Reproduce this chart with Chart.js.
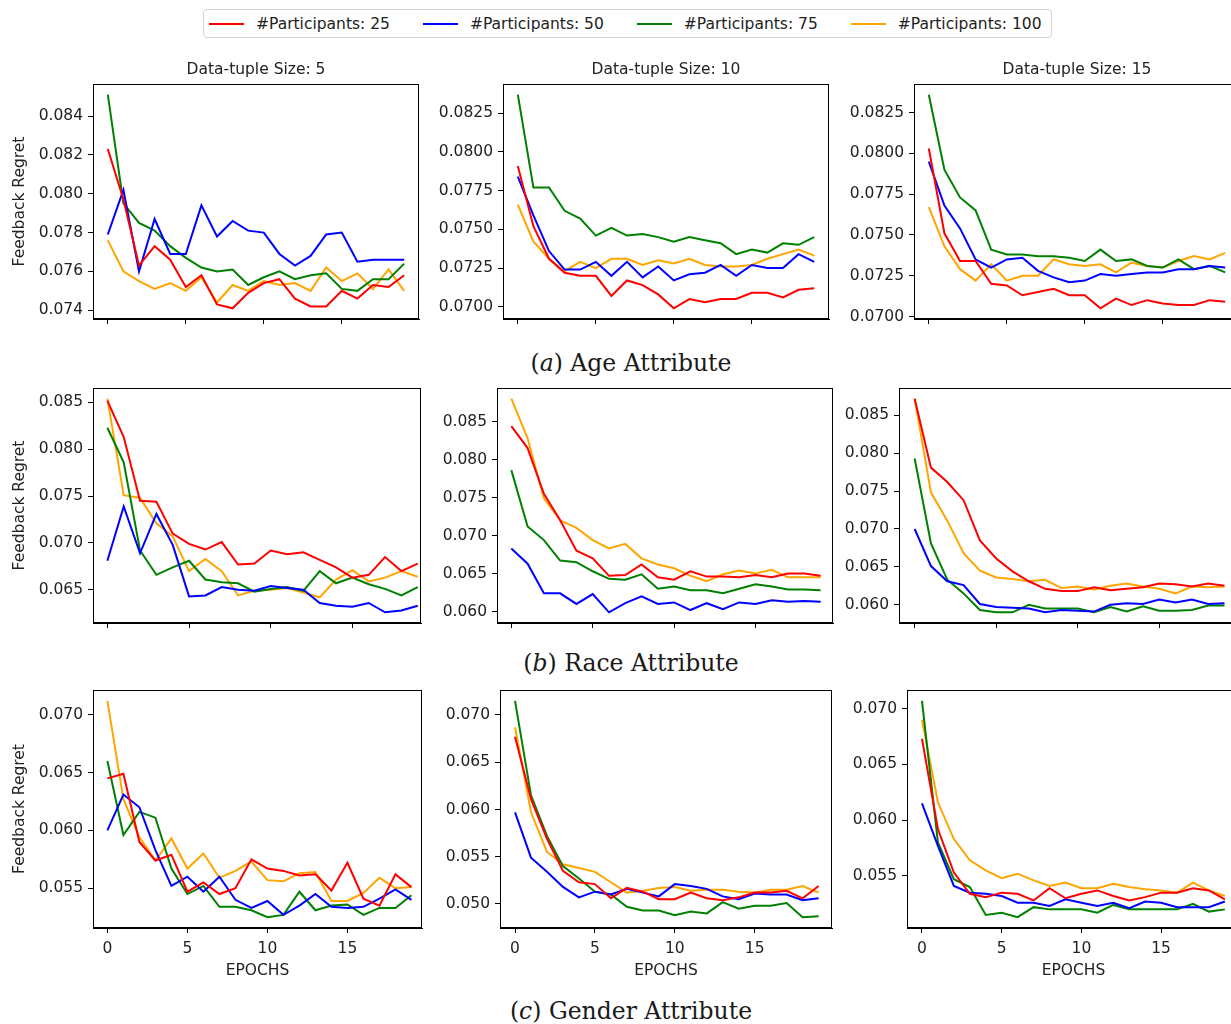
<!DOCTYPE html>
<html>
<head>
<meta charset="utf-8">
<script src="https://cdn.jsdelivr.net/npm/chart.js"></script>
<style>
  body { margin: 0; width: 1231px; height: 1024px; overflow: hidden; background: #fff; position: relative; font-family: "DejaVu Sans", sans-serif; }
  canvas { position: absolute; }
  #legend { position: absolute; left: 203px; top: 9px; width: 849px; height: 29px; box-sizing: border-box; border: 1px solid #d3d3d3; border-radius: 4px; display: flex; align-items: center; padding-left: 5px; font-size: 15.5px; color: #222; white-space: nowrap; }
  .item { display: flex; align-items: center; margin-right: 33px; flex-shrink: 0; }
  .swatch { width: 35px; height: 2px; margin-right: 12px; }
  .caption { position: absolute; left: 0; width: 1262px; text-align: center; font-family: "DejaVu Serif", serif; font-size: 23.5px; line-height: 30px; color: #1a1a1a; }
</style>
</head>
<body>
<div id="legend"></div>
<div class="caption" style="top:348px">(<i>a</i>) Age Attribute</div>
<div class="caption" style="top:648px">(<i>b</i>) Race Attribute</div>
<div class="caption" style="top:996px">(<i>c</i>) Gender Attribute</div>
<script>
// x values and series info
var epochs = [0,1,2,3,4,5,6,7,8,9,10,11,12,13,14,15,16,17,18,19];
var seriesNames = ["#Participants: 25", "#Participants: 50", "#Participants: 75", "#Participants: 100"];
var seriesColors = ["#ff0000", "#0000ff", "#008000", "#ffa500"];
var tupleSizes = [5, 10, 15];
var xTicks = [0, 5, 10, 15];

// Age attribute
var age5_25  = [0.0823,0.0797,0.0763,0.0773,0.0766,0.0752,0.0758,0.0743,0.0741,0.0749,0.0754,0.0756,0.0746,0.0742,0.0742,0.0750,0.0746,0.0753,0.0752,0.0758];
var age5_50  = [0.0779,0.0802,0.0760,0.0787,0.0769,0.0769,0.0794,0.0778,0.0786,0.0781,0.0780,0.0769,0.0763,0.0768,0.0779,0.0780,0.0765,0.0766,0.0766,0.0766];
var age5_75  = [0.0851,0.0795,0.0785,0.0781,0.0773,0.0767,0.0762,0.0760,0.0761,0.0753,0.0757,0.0760,0.0756,0.0758,0.0759,0.0751,0.0750,0.0756,0.0756,0.0764];
var age5_100 = [0.0776,0.0760,0.0755,0.0751,0.0754,0.0750,0.0757,0.0744,0.0753,0.0750,0.0755,0.0753,0.0754,0.0750,0.0762,0.0755,0.0759,0.0751,0.0761,0.0750];

var age10_25  = [0.0791,0.0752,0.0731,0.0722,0.0720,0.0720,0.0707,0.0717,0.0714,0.0708,0.0699,0.0705,0.0703,0.0705,0.0705,0.0709,0.0709,0.0706,0.0711,0.0712];
var age10_50  = [0.0784,0.0759,0.0736,0.0724,0.0724,0.0729,0.0720,0.0729,0.0719,0.0726,0.0717,0.0721,0.0722,0.0727,0.0720,0.0727,0.0725,0.0725,0.0734,0.0729];
var age10_75  = [0.0837,0.0777,0.0777,0.0762,0.0757,0.0746,0.0751,0.0746,0.0747,0.0745,0.0742,0.0745,0.0743,0.0741,0.0734,0.0737,0.0735,0.0741,0.0740,0.0745];
var age10_100 = [0.0766,0.0742,0.0731,0.0723,0.0729,0.0725,0.0731,0.0731,0.0727,0.0730,0.0728,0.0731,0.0727,0.0726,0.0726,0.0727,0.0731,0.0734,0.0737,0.0733];

var age15_25  = [0.0803,0.0751,0.0734,0.0734,0.0720,0.0719,0.0713,0.0715,0.0717,0.0713,0.0713,0.0705,0.0711,0.0707,0.0710,0.0708,0.0707,0.0707,0.0710,0.0709];
var age15_50  = [0.0795,0.0768,0.0754,0.0735,0.0730,0.0735,0.0736,0.0728,0.0724,0.0721,0.0722,0.0726,0.0725,0.0726,0.0727,0.0727,0.0729,0.0729,0.0731,0.0730];
var age15_75  = [0.0836,0.0790,0.0773,0.0765,0.0741,0.0738,0.0738,0.0737,0.0737,0.0736,0.0734,0.0741,0.0734,0.0735,0.0731,0.0730,0.0735,0.0729,0.0731,0.0727];
var age15_100 = [0.0767,0.0743,0.0729,0.0722,0.0732,0.0722,0.0725,0.0725,0.0735,0.0732,0.0731,0.0732,0.0727,0.0733,0.0731,0.0730,0.0734,0.0737,0.0735,0.0739];

// Race attribute
var race5_25  = [0.0852,0.0813,0.0745,0.0744,0.0710,0.0699,0.0693,0.0701,0.0677,0.0678,0.0692,0.0688,0.0690,0.0682,0.0674,0.0663,0.0666,0.0685,0.0670,0.0678];
var race5_50  = [0.0681,0.0739,0.0689,0.0731,0.0698,0.0643,0.0644,0.0653,0.0650,0.0649,0.0654,0.0652,0.0650,0.0636,0.0633,0.0632,0.0636,0.0626,0.0628,0.0633];
var race5_75  = [0.0823,0.0786,0.0692,0.0666,0.0674,0.0681,0.0661,0.0658,0.0657,0.0648,0.0651,0.0653,0.0649,0.0670,0.0657,0.0663,0.0656,0.0651,0.0644,0.0653];
var race5_100 = [0.0854,0.0751,0.0748,0.0721,0.0707,0.0670,0.0683,0.0670,0.0644,0.0649,0.0650,0.0652,0.0647,0.0642,0.0661,0.0671,0.0659,0.0663,0.0670,0.0664];

var race10_25  = [0.0844,0.0815,0.0755,0.0720,0.0680,0.0670,0.0647,0.0648,0.0662,0.0645,0.0642,0.0653,0.0646,0.0646,0.0645,0.0648,0.0645,0.0650,0.0650,0.0647];
var race10_50  = [0.0683,0.0663,0.0624,0.0624,0.0610,0.0623,0.0599,0.0611,0.0620,0.0610,0.0612,0.0602,0.0611,0.0603,0.0612,0.0610,0.0615,0.0613,0.0614,0.0613];
var race10_75  = [0.0786,0.0712,0.0694,0.0667,0.0665,0.0653,0.0643,0.0642,0.0649,0.0630,0.0633,0.0628,0.0628,0.0624,0.0630,0.0636,0.0633,0.0629,0.0629,0.0628];
var race10_100 = [0.0880,0.0828,0.0749,0.0720,0.0710,0.0694,0.0683,0.0689,0.0670,0.0662,0.0657,0.0647,0.0640,0.0649,0.0654,0.0650,0.0655,0.0645,0.0645,0.0645];

var race15_25  = [0.0872,0.0781,0.0762,0.0738,0.0685,0.0661,0.0644,0.0631,0.0621,0.0618,0.0618,0.0623,0.0619,0.0621,0.0623,0.0628,0.0627,0.0624,0.0628,0.0625];
var race15_50  = [0.0700,0.0651,0.0631,0.0626,0.0601,0.0597,0.0596,0.0595,0.0590,0.0593,0.0592,0.0591,0.0600,0.0602,0.0601,0.0607,0.0603,0.0607,0.0601,0.0602];
var race15_75  = [0.0793,0.0681,0.0633,0.0615,0.0593,0.0590,0.0590,0.0600,0.0595,0.0595,0.0595,0.0590,0.0597,0.0591,0.0598,0.0592,0.0592,0.0593,0.0599,0.0599];
var race15_100 = [0.0872,0.0748,0.0711,0.0668,0.0645,0.0636,0.0634,0.0631,0.0633,0.0622,0.0624,0.0620,0.0625,0.0628,0.0624,0.0621,0.0615,0.0624,0.0623,0.0624];

// Gender attribute
var gender5_25  = [0.0645,0.0649,0.0590,0.0574,0.0579,0.0547,0.0555,0.0545,0.0550,0.0575,0.0567,0.0565,0.0561,0.0562,0.0548,0.0572,0.0541,0.0535,0.0562,0.0551];
var gender5_50  = [0.0600,0.0631,0.0620,0.0583,0.0552,0.0560,0.0547,0.0560,0.0540,0.0533,0.0539,0.0527,0.0535,0.0545,0.0534,0.0533,0.0534,0.0541,0.0549,0.0540];
var gender5_75  = [0.0660,0.0596,0.0616,0.0611,0.0567,0.0545,0.0552,0.0534,0.0534,0.0531,0.0525,0.0527,0.0547,0.0531,0.0535,0.0536,0.0527,0.0533,0.0533,0.0544];
var gender5_100 = [0.0712,0.0627,0.0594,0.0574,0.0593,0.0567,0.0580,0.0559,0.0565,0.0573,0.0557,0.0556,0.0563,0.0564,0.0539,0.0539,0.0546,0.0559,0.0550,0.0551];

var gender10_25  = [0.0677,0.0611,0.0569,0.0535,0.0523,0.0521,0.0506,0.0517,0.0513,0.0505,0.0505,0.0512,0.0506,0.0504,0.0507,0.0512,0.0512,0.0514,0.0506,0.0519];
var gender10_50  = [0.0597,0.0549,0.0534,0.0518,0.0507,0.0513,0.0510,0.0516,0.0512,0.0508,0.0521,0.0519,0.0516,0.0508,0.0505,0.0511,0.0510,0.0510,0.0504,0.0506];
var gender10_75  = [0.0715,0.0615,0.0572,0.0540,0.0527,0.0513,0.0510,0.0497,0.0493,0.0493,0.0488,0.0492,0.0490,0.0502,0.0495,0.0498,0.0498,0.0501,0.0486,0.0487];
var gender10_100 = [0.0687,0.0597,0.0555,0.0542,0.0538,0.0534,0.0523,0.0512,0.0514,0.0517,0.0518,0.0514,0.0515,0.0515,0.0513,0.0512,0.0515,0.0515,0.0519,0.0512];

var gender15_25  = [0.0673,0.0592,0.0553,0.0534,0.0531,0.0535,0.0534,0.0528,0.0539,0.0530,0.0534,0.0537,0.0532,0.0528,0.0531,0.0535,0.0535,0.0539,0.0537,0.0529];
var gender15_50  = [0.0615,0.0577,0.0541,0.0535,0.0534,0.0532,0.0526,0.0526,0.0523,0.0529,0.0526,0.0523,0.0526,0.0521,0.0527,0.0526,0.0522,0.0522,0.0522,0.0527];
var gender15_75  = [0.0707,0.0580,0.0547,0.0540,0.0515,0.0517,0.0513,0.0522,0.0520,0.0520,0.0520,0.0517,0.0524,0.0520,0.0520,0.0520,0.0520,0.0525,0.0518,0.0520];
var gender15_100 = [0.0690,0.0616,0.0583,0.0564,0.0555,0.0548,0.0552,0.0546,0.0541,0.0544,0.0539,0.0539,0.0543,0.0540,0.0538,0.0537,0.0535,0.0544,0.0537,0.0532];

// y tick values per panel
var yTicksAge5 = [0.074, 0.076, 0.078, 0.080, 0.082, 0.084];
var yTicksAge = [0.0700, 0.0725, 0.0750, 0.0775, 0.0800, 0.0825];
var yTicksRace5 = [0.065, 0.070, 0.075, 0.080, 0.085];
var yTicksRace = [0.060, 0.065, 0.070, 0.075, 0.080, 0.085];
var yTicksGender = [0.055, 0.060, 0.065, 0.070];
var yTicksGender10 = [0.050, 0.055, 0.060, 0.065, 0.070];

var panels = [
  { row: 0, col: 0, series: [age5_25, age5_50, age5_75, age5_100], yTicks: yTicksAge5, dec: 3, box: [93, 84, 419, 319], xr: [-0.95, 19.95] },
  { row: 0, col: 1, series: [age10_25, age10_50, age10_75, age10_100], yTicks: yTicksAge, dec: 4, box: [503, 84, 829, 319], xr: [-0.95, 19.95] },
  { row: 0, col: 2, series: [age15_25, age15_50, age15_75, age15_100], yTicks: yTicksAge, dec: 4, box: [914, 84, 1240, 319], xr: [-0.95, 19.95] },
  { row: 1, col: 0, series: [race5_25, race5_50, race5_75, race5_100], yTicks: yTicksRace5, dec: 3, box: [93, 388, 421, 623], xr: [-0.88, 19.2] },
  { row: 1, col: 1, series: [race10_25, race10_50, race10_75, race10_100], yTicks: yTicksRace, dec: 3, box: [497, 388, 833, 623], xr: [-0.88, 19.76] },
  { row: 1, col: 2, series: [race15_25, race15_50, race15_75, race15_100], yTicks: yTicksRace, dec: 3, box: [899, 388, 1240, 623], xr: [-0.96, 19.95] },
  { row: 2, col: 0, series: [gender5_25, gender5_50, gender5_75, gender5_100], yTicks: yTicksGender, dec: 3, box: [93, 690, 422, 928], xr: [-0.9, 19.66] },
  { row: 2, col: 1, series: [gender10_25, gender10_50, gender10_75, gender10_100], yTicks: yTicksGender10, dec: 3, box: [500, 690, 832, 928], xr: [-0.94, 19.84] },
  { row: 2, col: 2, series: [gender15_25, gender15_50, gender15_75, gender15_100], yTicks: yTicksGender, dec: 3, box: [907, 690, 1240, 928], xr: [-0.94, 19.95] }
];

// legend
var legend = document.getElementById("legend");
seriesNames.forEach(function (name, i) {
  var item = document.createElement("div");
  item.className = "item";
  var sw = document.createElement("span");
  sw.className = "swatch";
  sw.style.background = seriesColors[i];
  var txt = document.createElement("span");
  txt.textContent = name;
  item.appendChild(sw);
  item.appendChild(txt);
  legend.appendChild(item);
});

var tickFont = { family: "DejaVu Sans", size: 15.5 };
var textColor = "#222";

// matplotlib style box round the plot area, plus the column title centred over it
var framePlugin = {
  id: "frame",
  afterDraw: function (chart) {
    var a = chart.chartArea, ctx = chart.ctx;
    ctx.save();
    ctx.strokeStyle = "#000";
    ctx.lineWidth = 1;
    ctx.strokeRect(Math.round(a.left) + 0.5, Math.round(a.top) + 0.5, Math.round(a.right - a.left) - 1, Math.round(a.bottom - a.top) - 1);
    var t = chart.options.plugins.frame && chart.options.plugins.frame.title;
    if (t) {
      ctx.fillStyle = textColor;
      ctx.font = "15.5px 'DejaVu Sans'";
      ctx.textAlign = "center";
      ctx.textBaseline = "middle";
      ctx.fillText(t, (a.left + a.right) / 2, a.top - 14);
    }
    ctx.restore();
  }
};

panels.forEach(function (p) {
  var yW = p.col === 0 ? 82 : 75;
  var topH = p.row === 0 ? 30 : 20;
  var xH = p.row === 2 ? 52 : 22;
  var padR = 2;
  var w = (p.box[2] - p.box[0]) + yW + padR;
  var h = topH + (p.box[3] - p.box[1]) + xH;
  var c = document.createElement("canvas");
  c.width = w; c.height = h;
  c.style.width = w + "px"; c.style.height = h + "px";
  c.style.left = (p.box[0] - yW) + "px";
  c.style.top = (p.box[1] - topH) + "px";
  document.body.appendChild(c);

  var all = [].concat.apply([], p.series);
  var lo = Math.min.apply(null, all), hi = Math.max.apply(null, all);
  var m = (hi - lo) * 0.05;

  new Chart(c, {
    type: "line",
    data: {
      datasets: p.series.map(function (vals, i) {
        return {
          label: seriesNames[i],
          data: epochs.map(function (e, j) { return { x: e, y: vals[j] }; }),
          borderColor: seriesColors[i],
          backgroundColor: seriesColors[i],
          borderWidth: 2,
          pointRadius: 0,
          tension: 0,
          fill: false
        };
      })
    },
    plugins: [framePlugin],
    options: {
      responsive: false,
      animation: false,
      devicePixelRatio: 1,
      layout: { padding: { top: topH, right: padR, bottom: 0, left: 0 } },
      plugins: {
        legend: { display: false },
        tooltip: { enabled: false },
        frame: { title: p.row === 0 ? "Data-tuple Size: " + tupleSizes[p.col] : "" }
      },
      scales: {
        x: {
          type: "linear",
          min: p.xr[0],
          max: p.xr[1],
          afterBuildTicks: function (s) { s.ticks = xTicks.map(function (v) { return { value: v }; }); },
          afterFit: function (s) { s.height = xH; },
          ticks: {
            font: tickFont, color: textColor, padding: 7, maxRotation: 0, autoSkip: false,
            callback: function (v) { return p.row === 2 ? String(v) : ""; }
          },
          grid: { drawOnChartArea: false, drawTicks: true, tickLength: 5, color: "#000" },
          border: { display: true, color: "#000" },
          title: { display: p.row === 2, text: "EPOCHS", font: tickFont, color: textColor, padding: 0 }
        },
        y: {
          min: lo - m,
          max: hi + m,
          afterBuildTicks: function (s) { s.ticks = p.yTicks.map(function (v) { return { value: v }; }); },
          afterFit: function (s) { s.width = yW; },
          ticks: {
            font: tickFont, color: textColor, padding: 5, autoSkip: false,
            callback: function (v) { return Number(v).toFixed(p.dec); }
          },
          grid: { drawOnChartArea: false, drawTicks: true, tickLength: 5, color: "#000" },
          border: { display: true, color: "#000" },
          title: { display: p.col === 0, text: "Feedback Regret", font: tickFont, color: textColor, padding: 0 }
        }
      }
    }
  });
});
</script>
</body>
</html>
